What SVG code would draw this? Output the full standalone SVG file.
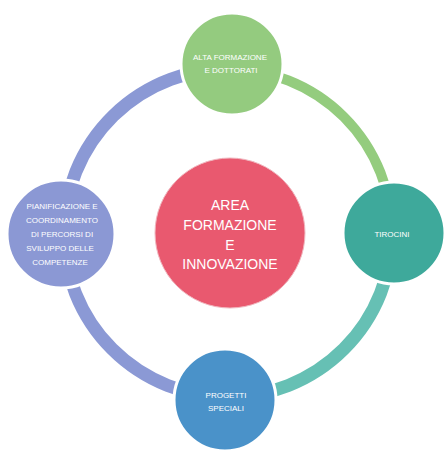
<svg xmlns="http://www.w3.org/2000/svg" width="445" height="452" viewBox="0 0 445 452">
<style>
.arc{fill:none}
.node{stroke:#ffffff;stroke-width:3}
.t{fill:#ffffff;font-family:"Liberation Sans",Arial,sans-serif;font-size:8px;text-anchor:middle}
.tc{fill:#ffffff;font-family:"Liberation Sans",Arial,sans-serif;font-size:14px;text-anchor:middle}
</style>
<rect width="445" height="452" fill="#ffffff"/>
<g id="connectors">
<path class="arc" d="M 228 69 A 164 164 0 0 1 392 233" stroke="#94cc7e" stroke-width="10"/>
<path class="arc" d="M 392 233 A 164 164 0 0 1 228 397" stroke="#66c0b4" stroke-width="13"/>
<path class="arc" d="M 228 397 A 164 164 0 0 1 64 233 A 164 164 0 0 1 232 69" stroke="#8b99d5" stroke-width="13"/>
</g>
<g id="center">
<circle cx="230" cy="233" r="75" fill="#e9596f" stroke="#f0b8c0" stroke-width="1"/>
<text class="tc" x="230" y="210">AREA</text>
<text class="tc" x="230" y="230">FORMAZIONE</text>
<text class="tc" x="230" y="250">E</text>
<text class="tc" x="230" y="269">INNOVAZIONE</text>
</g>
<g id="top">
<circle class="node" cx="232" cy="64" r="51" fill="#94cb7f"/>
<text class="t" x="230" y="60">ALTA FORMAZIONE</text>
<text class="t" x="231" y="73">E DOTTORATI</text>
</g>
<g id="right">
<circle class="node" cx="394" cy="233" r="51" fill="#3ea99b"/>
<text class="t" x="392" y="237">TIROCINI</text>
</g>
<g id="bottom">
<circle class="node" cx="225" cy="400" r="51" fill="#4a92c9"/>
<text class="t" x="226" y="398">PROGETTI</text>
<text class="t" x="226" y="411">SPECIALI</text>
</g>
<g id="left">
<circle class="node" cx="61" cy="234" r="54" fill="#8b98d4"/>
<text class="t" x="62" y="209">PIANIFICAZIONE E</text>
<text class="t" x="62" y="223">COORDINAMENTO</text>
<text class="t" x="62" y="237">DI PERCORSI DI</text>
<text class="t" x="60" y="251">SVILUPPO DELLE</text>
<text class="t" x="60" y="265">COMPETENZE</text>
</g>
</svg>
